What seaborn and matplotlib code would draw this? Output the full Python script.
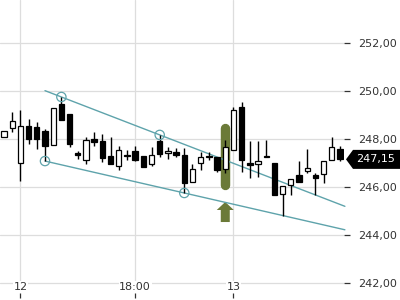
import numpy as np
import pandas as pd
import matplotlib
matplotlib.use("Agg")
import matplotlib.pyplot as plt
import matplotlib.transforms as mtransforms
from matplotlib.patches import Polygon, FancyArrow
import seaborn as sns

# ---------------- data ----------------
opens = [248.08, 248.46, 247.00, 248.54, 248.50, 248.33, 247.75, 249.46, 249.04, 247.40,
         247.125, 248.00, 247.92, 247.29, 246.875, 247.33, 247.50, 247.29, 246.96, 247.92,
         247.42, 247.46, 247.33, 246.21, 247.00, 247.29, 247.25, 246.75, 247.54, 249.33,
         247.00, 246.96, 247.29, 247.00, 245.71, 246.08, 246.50, 246.67, 246.50, 246.54,
         247.125, 247.58]
highs = [248.33, 249.125, 249.21, 248.83, 248.71, 248.40, 249.29, 249.75, 249.04, 247.50,
         248.08, 248.29, 248.21, 248.08, 247.71, 247.54, 247.71, 247.29, 247.67, 248.17,
         247.67, 247.625, 247.625, 246.96, 247.46, 247.46, 247.25, 247.96, 249.33, 249.54,
         247.92, 247.92, 247.96, 247.00, 246.04, 246.33, 247.08, 247.58, 246.58, 247.08,
         248.08, 247.71]
lows = [248.08, 248.29, 246.25, 247.79, 247.58, 247.08, 247.75, 248.79, 247.67, 247.17,
        246.96, 247.71, 247.04, 246.96, 246.71, 247.125, 247.08, 246.83, 246.875, 247.25,
        247.17, 247.25, 245.75, 246.21, 246.71, 247.125, 246.625, 246.58, 247.54, 246.625,
        246.375, 246.42, 247.25, 245.67, 244.79, 245.67, 246.21, 246.58, 245.67, 246.17,
        247.125, 247.08]
closes = [248.33, 248.75, 248.54, 248.00, 248.00, 247.71, 249.29, 248.79, 247.79, 247.33,
          247.96, 247.875, 247.21, 246.96, 247.54, 247.29, 247.125, 246.83, 247.33, 247.375,
          247.50, 247.33, 246.17, 246.75, 247.25, 247.25, 246.71, 247.67, 249.21, 247.125,
          246.92, 247.08, 247.25, 245.67, 246.04, 246.33, 246.21, 246.79, 246.375, 247.08,
          247.67, 247.15]

x_tick_pos = [2, 16, 28]
x_tick_labels = ["12", "18:00", "13"]
y_ticks = [242, 244, 246, 248, 250, 252]

upper_anchor_idx = [7, 19]
upper_anchor_val = [249.75, 248.17]
lower_anchor_idx = [5, 22]
lower_anchor_val = [247.08, 245.75]
trend_start = 5.0

highlight_idx = 27
highlight_range = [245.875, 248.625]
arrow_range = [244.54, 245.375]

# ---------------- style ----------------
sns.set_theme(style="white")
plt.rcParams['font.family'] = ['DejaVu Sans']

n = len(opens)
idx = np.arange(n)
df = pd.DataFrame({"i": idx, "open": opens, "high": highs, "low": lows, "close": closes})

fig = plt.figure(figsize=(4, 3), dpi=100)
ax = fig.add_axes([0.0, 1 - 293 / 300, 344 / 400, 293 / 300])

XMIN, XMAX = -0.49, 41.49
YMIN, YMAX = 241.583, 253.79
ax.set_xlim(XMIN, XMAX)
ax.set_ylim(YMIN, YMAX)

grid_c = "#dddddd"
for v in y_ticks:
    ax.axhline(v, color=grid_c, lw=0.9, zorder=0)
for p in x_tick_pos:
    ax.axvline(p, color=grid_c, lw=0.9, zorder=0)

# highlight pill + arrow
olive = "#6b7a38"
cap = 4.5 / 24
ax.plot([highlight_idx, highlight_idx], [highlight_range[0] + cap, highlight_range[1] - cap],
        color=olive, lw=6.8, solid_capstyle="round", zorder=1)
arr = FancyArrow(highlight_idx, arrow_range[0], 0, arrow_range[1] - arrow_range[0],
                 width=9 / 8.195, head_width=17 / 8.195, head_length=8 / 24,
                 length_includes_head=True, color=olive, lw=0, zorder=1)
ax.add_patch(arr)

# trend lines
teal = "#5ea3ab"
def trend(ix, vals, x0, x1):
    slope = (vals[1] - vals[0]) / (ix[1] - ix[0])
    xs = np.array([x0, x1])
    return pd.DataFrame({"x": xs, "y": vals[0] + (xs - ix[0]) * slope})

up = trend(upper_anchor_idx, upper_anchor_val, trend_start, 41.6)
lo = trend(lower_anchor_idx, lower_anchor_val, trend_start, 41.6)
sns.lineplot(data=up, x="x", y="y", ax=ax, color=teal, lw=1.0, sort=False, estimator=None, zorder=2)
sns.lineplot(data=lo, x="x", y="y", ax=ax, color=teal, lw=1.0, sort=False, estimator=None, zorder=2)
for l in ax.lines[-2:]:
    l.set_clip_on(False)

anch = pd.DataFrame({"x": upper_anchor_idx + lower_anchor_idx,
                     "y": upper_anchor_val + lower_anchor_val})
sns.scatterplot(data=anch, x="x", y="y", ax=ax, s=45, facecolor="none",
                edgecolor=teal, linewidth=0.9, zorder=5)

# candles
ax.vlines(df["i"], df["low"], df["high"], color="black", lw=1.0, zorder=3)
up_mask = df["close"] >= df["open"]
body_w = 0.65
bottoms = np.minimum(df["open"], df["close"])
heights = np.maximum(np.abs(df["close"] - df["open"]), 0.06)
ax.bar(df["i"][up_mask], heights[up_mask], bottom=bottoms[up_mask], width=body_w,
       color="white", edgecolor="black", lw=0.9, zorder=4)
ax.bar(df["i"][~up_mask], heights[~up_mask], bottom=bottoms[~up_mask], width=body_w,
       color="black", edgecolor="black", lw=0.9, zorder=4)

# axes cosmetics
for s in ax.spines.values():
    s.set_visible(False)
ax.set_xlabel("")
ax.set_ylabel("")
txt_c = "#333333"
ax.set_xticks(x_tick_pos)
ax.set_xticklabels(x_tick_labels)
ax.set_yticks(y_ticks)
ax.set_yticklabels([f"{v:.2f}".replace(".", ",") for v in y_ticks])
ax.yaxis.tick_right()
ax.tick_params(axis="y", which="both", right=True, left=False, direction="out", length=4,
               width=0.9, color=txt_c, pad=6.5, labelsize=8, labelcolor=txt_c)
ax.tick_params(axis="x", which="both", bottom=True, direction="out", length=3.5,
               width=0.9, color=txt_c, pad=-11.5, labelsize=8, labelcolor=txt_c)
for lbl in ax.get_xticklabels():
    lbl.set_bbox(dict(facecolor="white", edgecolor="none", pad=0.5))

# price tag
last = closes[-1]
tr = mtransforms.blended_transform_factory(fig.transFigure, ax.transData)
hh = 9.5 / 24
tag = Polygon([(346 / 400, last), (353 / 400, last + hh), (1.0, last + hh),
               (1.0, last - hh), (353 / 400, last - hh)], closed=True,
              transform=tr, facecolor="black", edgecolor="none", clip_on=False, zorder=6)
ax.add_artist(tag)
ax.text(376 / 400, last, f"{last:.2f}".replace(".", ","), transform=tr, color="white",
        fontsize=8, ha="center", va="center", zorder=7, clip_on=False)

fig.savefig("out.png", dpi=100)
